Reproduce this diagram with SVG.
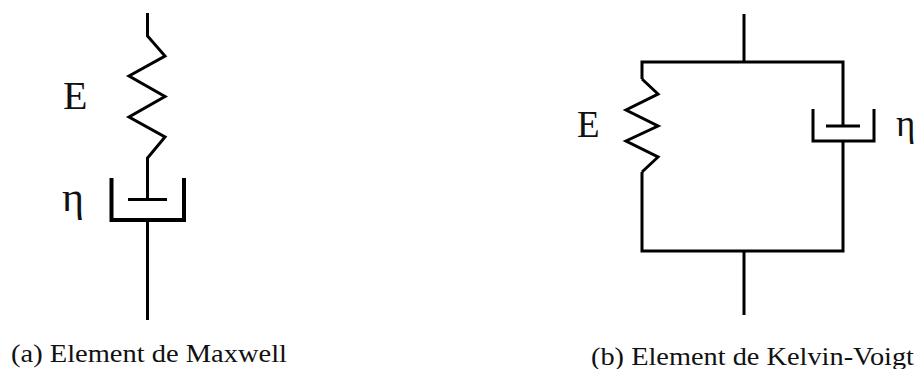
<svg xmlns="http://www.w3.org/2000/svg" width="920" height="369" viewBox="0 0 920 369">
<style>
.w{fill:none;stroke:#000;stroke-width:3;stroke-linejoin:miter;stroke-linecap:butt}
.c{fill:none;stroke:#000;stroke-width:4}
text{font-family:"Liberation Serif","Times New Roman",serif;fill:#111}
.l{font-size:40px}
.n{font-size:42px}
.r{font-size:37px}
.cap{font-size:25px}
</style>
<rect width="920" height="369" fill="#fff"/>
<g id="connectors">
<path class="w" d="M147.500 13V36L165 56L129 76L165 96.500L129 117L165 137L147.500 158V199"/>
<path class="w" d="M147.500 220V320"/>
<path class="w" d="M744 14V62M744 251V315"/>
<path class="w" d="M642 79V62H843V126M843 141V251H642V172"/>
<path class="w" d="M642 79L658 94L626 110L658 126L626 141L658 157L642 172"/>
</g>
<g id="maxwell-spring-label"><text class="l" x="63" y="109">E</text></g>
<g id="maxwell-dashpot">
<path class="c" d="M111.500 178V220H184V178"/>
<path class="w" d="M128 199.500H167"/>
<text class="n" x="62" y="211">η</text>
</g>
<g id="kv-spring-label"><text class="r" x="577" y="137">E</text></g>
<g id="kv-dashpot">
<path class="w" d="M813 109V141H874V109"/>
<path class="w" d="M826 126H860"/>
<text class="r" x="896" y="136">η</text>
</g>
<g id="caption-a"><text class="cap" x="11" y="362" textLength="276" lengthAdjust="spacingAndGlyphs">(a) Element de Maxwell</text></g>
<g id="caption-b"><text class="cap" x="591" y="365" textLength="323" lengthAdjust="spacingAndGlyphs">(b) Element de Kelvin-Voigt</text></g>
</svg>
